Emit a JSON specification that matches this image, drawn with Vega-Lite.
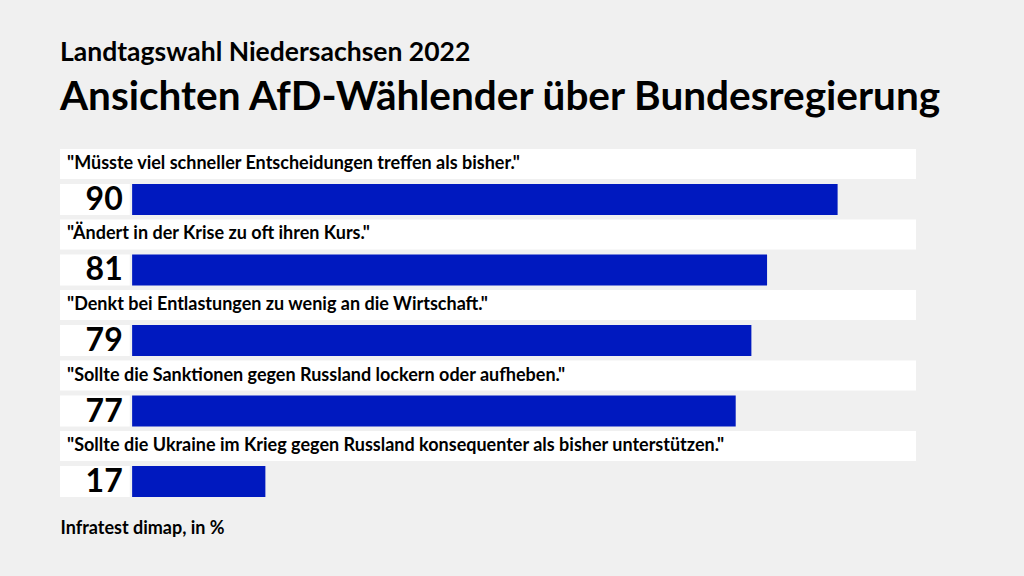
{
  "$schema": "https://vega.github.io/schema/vega-lite/v6.json",
  "width": 856,
  "height": 348,
  "autosize": {"type": "none"},
  "padding": {"left": 60, "top": 149, "right": 108, "bottom": 79},
  "background": "#f0f0f0",
  "config": {"view": {"stroke": null}, "font": "Lato"},
  "title": {
    "text": "Landtagswahl Niedersachsen 2022",
    "subtitle": "Ansichten AfD-Wählender über Bundesregierung",
    "anchor": "start",
    "frame": "group",
    "font": "Lato",
    "fontSize": 26.5,
    "fontWeight": "bold",
    "color": "#000000",
    "subtitleFont": "Lato",
    "subtitleFontSize": 40.5,
    "subtitleFontWeight": "bold",
    "subtitleColor": "#000000",
    "subtitlePadding": 12,
    "offset": 30
  },
  "data": {
    "values": [
      {"order": 1, "statement": "\"Müsste viel schneller Entscheidungen treffen als bisher.\"", "value": 90},
      {"order": 2, "statement": "\"Ändert in der Krise zu oft ihren Kurs.\"", "value": 81},
      {"order": 3, "statement": "\"Denkt bei Entlastungen zu wenig an die Wirtschaft.\"", "value": 79},
      {"order": 4, "statement": "\"Sollte die Sanktionen gegen Russland lockern oder aufheben.\"", "value": 77},
      {"order": 5, "statement": "\"Sollte die Ukraine im Krieg gegen Russland konsequenter als bisher unterstützen.\"", "value": 17}
    ]
  },
  "encoding": {
    "y": {
      "field": "order",
      "type": "ordinal",
      "scale": {"paddingInner": 0.064, "paddingOuter": 0},
      "axis": null
    }
  },
  "layer": [
    {
      "mark": {"type": "bar", "color": "#ffffff", "height": 30, "yOffset": -18},
      "encoding": {
        "x": {"datum": -9.2, "type": "quantitative", "scale": {"domain": [-9.2, 100], "nice": false, "zero": false},
          "axis": {"title": "Infratest dimap, in %", "titleAnchor": "start", "titleAlign": "left", "titlePadding": 22, "titleFont": "Lato", "titleFontSize": 18, "titleFontWeight": "bold", "titleColor": "#000000", "labels": false, "ticks": false, "domain": false, "grid": false}},
        "x2": {"datum": 100}
      }
    },
    {
      "mark": {"type": "bar", "color": "#ffffff", "height": 31, "yOffset": 17.5},
      "encoding": {
        "x": {"datum": -9.2, "type": "quantitative"},
        "x2": {"datum": -0.3}
      }
    },
    {
      "mark": {"type": "bar", "color": "#0019bf", "height": 31, "yOffset": 17.5},
      "encoding": {
        "x": {"field": "value", "type": "quantitative"},
        "x2": {"datum": 0}
      }
    },
    {
      "mark": {"type": "text", "align": "left", "baseline": "middle", "yOffset": -18, "font": "Lato", "fontSize": 18, "fontWeight": "bold", "color": "#000000"},
      "encoding": {
        "x": {"datum": -8.3, "type": "quantitative"},
        "text": {"field": "statement", "type": "nominal"}
      }
    },
    {
      "mark": {"type": "text", "align": "right", "baseline": "middle", "yOffset": 18, "font": "Lato", "fontSize": 32, "fontWeight": "bold", "color": "#000000"},
      "encoding": {
        "x": {"datum": -1.2, "type": "quantitative"},
        "text": {"field": "value", "type": "quantitative"}
      }
    }
  ]
}
